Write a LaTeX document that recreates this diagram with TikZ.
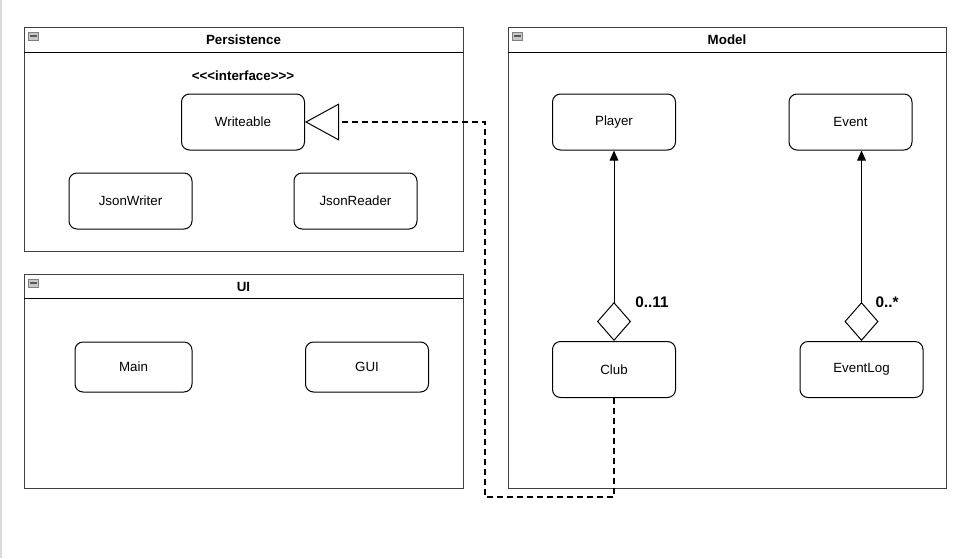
\documentclass[tikz,border=0pt]{standalone}
\usepackage{fontspec}
\setmainfont{Liberation Sans}[Ligatures=TeXOff]
\usetikzlibrary{arrows.meta}
\begin{document}
\begin{tikzpicture}[x=0.75pt,y=-0.75pt,
  cls/.style={draw=black,line width=0.75pt,rounded corners=6pt,minimum width=92.25pt,minimum height=42pt,inner sep=0pt,font=\fontsize{10pt}{12pt}\selectfont},
  small/.style={cls,minimum height=37.5pt},
  frame/.style={draw=black!75,line width=0.75pt},
  sep/.style={draw=black,line width=0.75pt},
  title/.style={font=\bfseries\fontsize{10pt}{12pt}\selectfont,inner sep=0pt},
  mult/.style={font=\bfseries\fontsize{11.5pt}{13pt}\selectfont,inner sep=0pt},
  icon/.style={draw=black!50,fill=black!22,line width=0.6pt},
  iconbar/.style={draw=black!65,line width=1.1pt},
  assoc/.style={line width=0.75pt,{Diamond[fill=white,length=29.25pt,width=25.5pt]}-{Triangle[length=7.5pt,width=6.5pt]}},
  realize/.style={line width=1.5pt,dash pattern=on 4.5pt off 3pt,-{Triangle[open,length=25.5pt,width=27.75pt,line width=0.75pt]}}
]
\useasboundingbox (0,0) rectangle (954,558);
\fill[white] (0,0) rectangle (954,558);
\draw[black!14,line width=1.2pt] (0.8,0) -- (0.8,558);

% Persistence package
\draw[frame] (24,27) rectangle (463,251);
\draw[sep] (24,52) -- (463,52);
\draw[icon] (28.5,32) rectangle (38,40);
\draw[iconbar] (30,36) -- (36.5,36);
\node[title] (ptitle) at (243.5,40) {Persistence};
\node[title] (iface) at (243,76) {<<<interface>>>};
\node[cls] (writeable) at (243,122) {Writeable};
\node[cls] (jsonwriter) at (130.5,201) {JsonWriter};
\node[cls] (jsonreader) at (355.5,201) {JsonReader};

% UI package
\draw[frame] (24,274) rectangle (463,488);
\draw[sep] (24,298) -- (463,298);
\draw[icon] (28.5,279) rectangle (38,287);
\draw[iconbar] (30,283) -- (36.5,283);
\node[title] (uititle) at (243.5,287) {UI};
\node[small,minimum width=87.75pt] (main) at (133.5,367) {Main};
\node[small] (gui) at (367,367) {GUI};

% Model package
\draw[frame] (508,27) rectangle (946,488);
\draw[sep] (508,52) -- (946,52);
\draw[icon] (512.5,32) rectangle (522,40);
\draw[iconbar] (514,36) -- (520.5,36);
\node[title] (mtitle) at (727,40) {Model};
\node[cls] (player) at (614,122) {Player};
\node[cls] (event) at (850.5,122) {Event};
\node[cls] (club) at (614,369.5) {Club};
\node[cls] (eventlog) at (861.5,369.5) {EventLog};

% connectors
\draw[assoc] (club.north) -- (player.south);
\draw[assoc] (eventlog.north) -- (eventlog.north |- event.south);
\node[mult] (m1) at (652,302) {0..11};
\node[mult] (m2) at (887,302) {0..*};

\coordinate (turn) at (485,497);
\draw[realize] (club.south) |- (turn) |- (writeable.east);
\end{tikzpicture}
\end{document}
